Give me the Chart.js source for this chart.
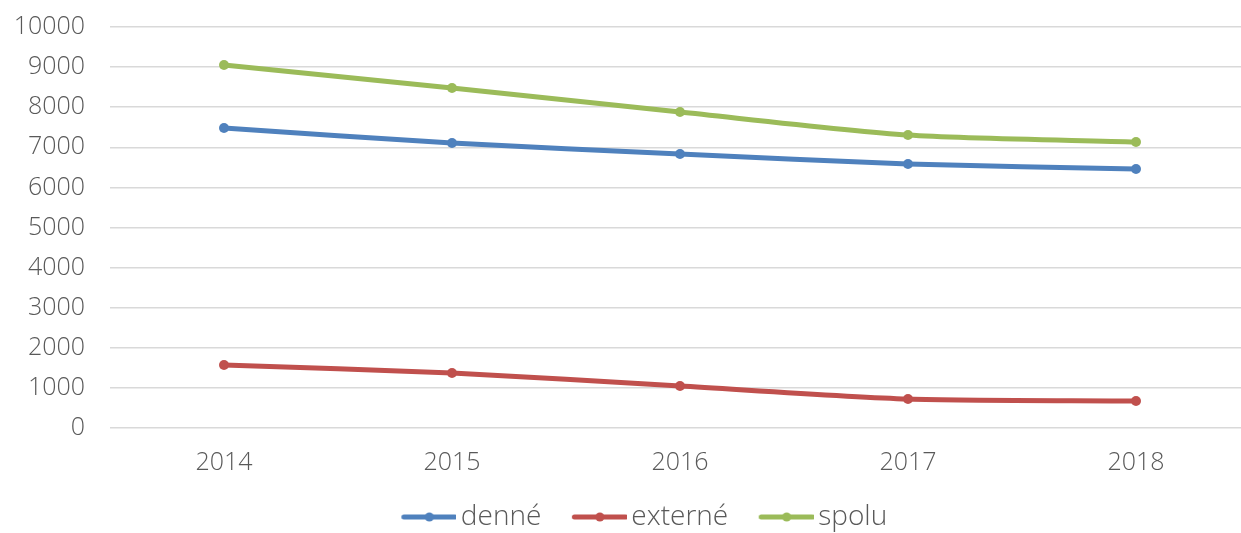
<!DOCTYPE html>
<html>
<head>
<meta charset="utf-8">
<script src="https://cdn.jsdelivr.net/npm/chart.js@4/dist/chart.umd.min.js"></script>
<style>
html,body{margin:0;padding:0;background:#fff;overflow:hidden;}
#wrap{width:1241px;height:533px;position:relative;overflow:hidden;}
#c{position:absolute;left:0;top:-13px;}
</style>
</head>
<body>
<div id="wrap"><canvas id="c" width="1280" height="554"></canvas></div>
<script>
const categories = ['2014','2015','2016','2017','2018'];
const denne = [7480, 7107, 6833, 6583, 6459];
const externe = [1571, 1372, 1047, 723, 673];
const spolu = [9051, 8479, 7880, 7306, 7132];
const seriesNames = ['denné','externé','spolu'];
const colors = ['#4F81BD','#C0504D','#9BBB59'];

function legendIcon(color){
  const cv = document.createElement('canvas');
  cv.width = 70; cv.height = 12;
  const g = cv.getContext('2d');
  g.strokeStyle = color; g.lineWidth = 5; g.lineCap = 'round';
  g.beginPath(); g.moveTo(17.5,6); g.lineTo(68.5,6); g.stroke();
  g.fillStyle = color;
  g.beginPath(); g.arc(43,6,4.5,0,Math.PI*2); g.fill();
  return cv;
}
const icons = colors.map(legendIcon);
const FONT = '"Open Sans", Lato, sans-serif';
const FSIZE = 25;
const FWEIGHT = 300;

function ds(label, data, color){
  return {label, data, borderColor: color, backgroundColor: color,
    borderWidth: 5, pointRadius: 5, pointHoverRadius: 5,
    pointBackgroundColor: color, pointBorderWidth: 0, tension: 0.25, fill: false};
}

new Chart(document.getElementById('c'), {
  type: 'line',
  data: {
    labels: categories,
    datasets: [ds(seriesNames[0], denne, colors[0]), ds(seriesNames[1], externe, colors[1]), ds(seriesNames[2], spolu, colors[2])]
  },
  options: {
    responsive: false,
    animation: false,
    layout: {padding: {top: 0, left: 3, right: 0, bottom: 0}},
    plugins: {
      tooltip: {enabled: false},
      legend: {
        position: 'bottom',
        labels: {
          usePointStyle: true,
          pointStyleWidth: 51,
          padding: 25,
          color: '#595959',
          font: {family: FONT, size: 28, weight: FWEIGHT},
          generateLabels(chart){
            const items = Chart.defaults.plugins.legend.labels.generateLabels(chart);
            items.forEach((it,i)=>{ it.pointStyle = icons[i]; });
            return items;
          }
        }
      }
    },
    scales: {
      x: {
        offset: true,
        grid: {display: false, drawTicks: false},
        border: {display: false},
        ticks: {color: '#595959', font: {family: FONT, size: FSIZE, weight: FWEIGHT}, padding: 20, maxRotation: 0},
        afterFit(s){ s.height = 50; }
      },
      y: {
        min: 0, max: 10000,
        ticks: {stepSize: 1000, color: '#595959', font: {family: FONT, size: FSIZE, weight: FWEIGHT}, padding: 25,
          callback: v => String(v)},
        grid: {color: '#D9D9D9', lineWidth: 1.5, drawTicks: false},
        border: {display: false},
        afterFit(s){ s.width = 107; }
      },
      yRight: {
        position: 'right',
        min: 0, max: 10000,
        grid: {display: false, drawTicks: false},
        border: {display: false},
        ticks: {display: false},
        afterFit(s){ s.width = 30; }
      }
    }
  }
});
</script>
</body>
</html>
